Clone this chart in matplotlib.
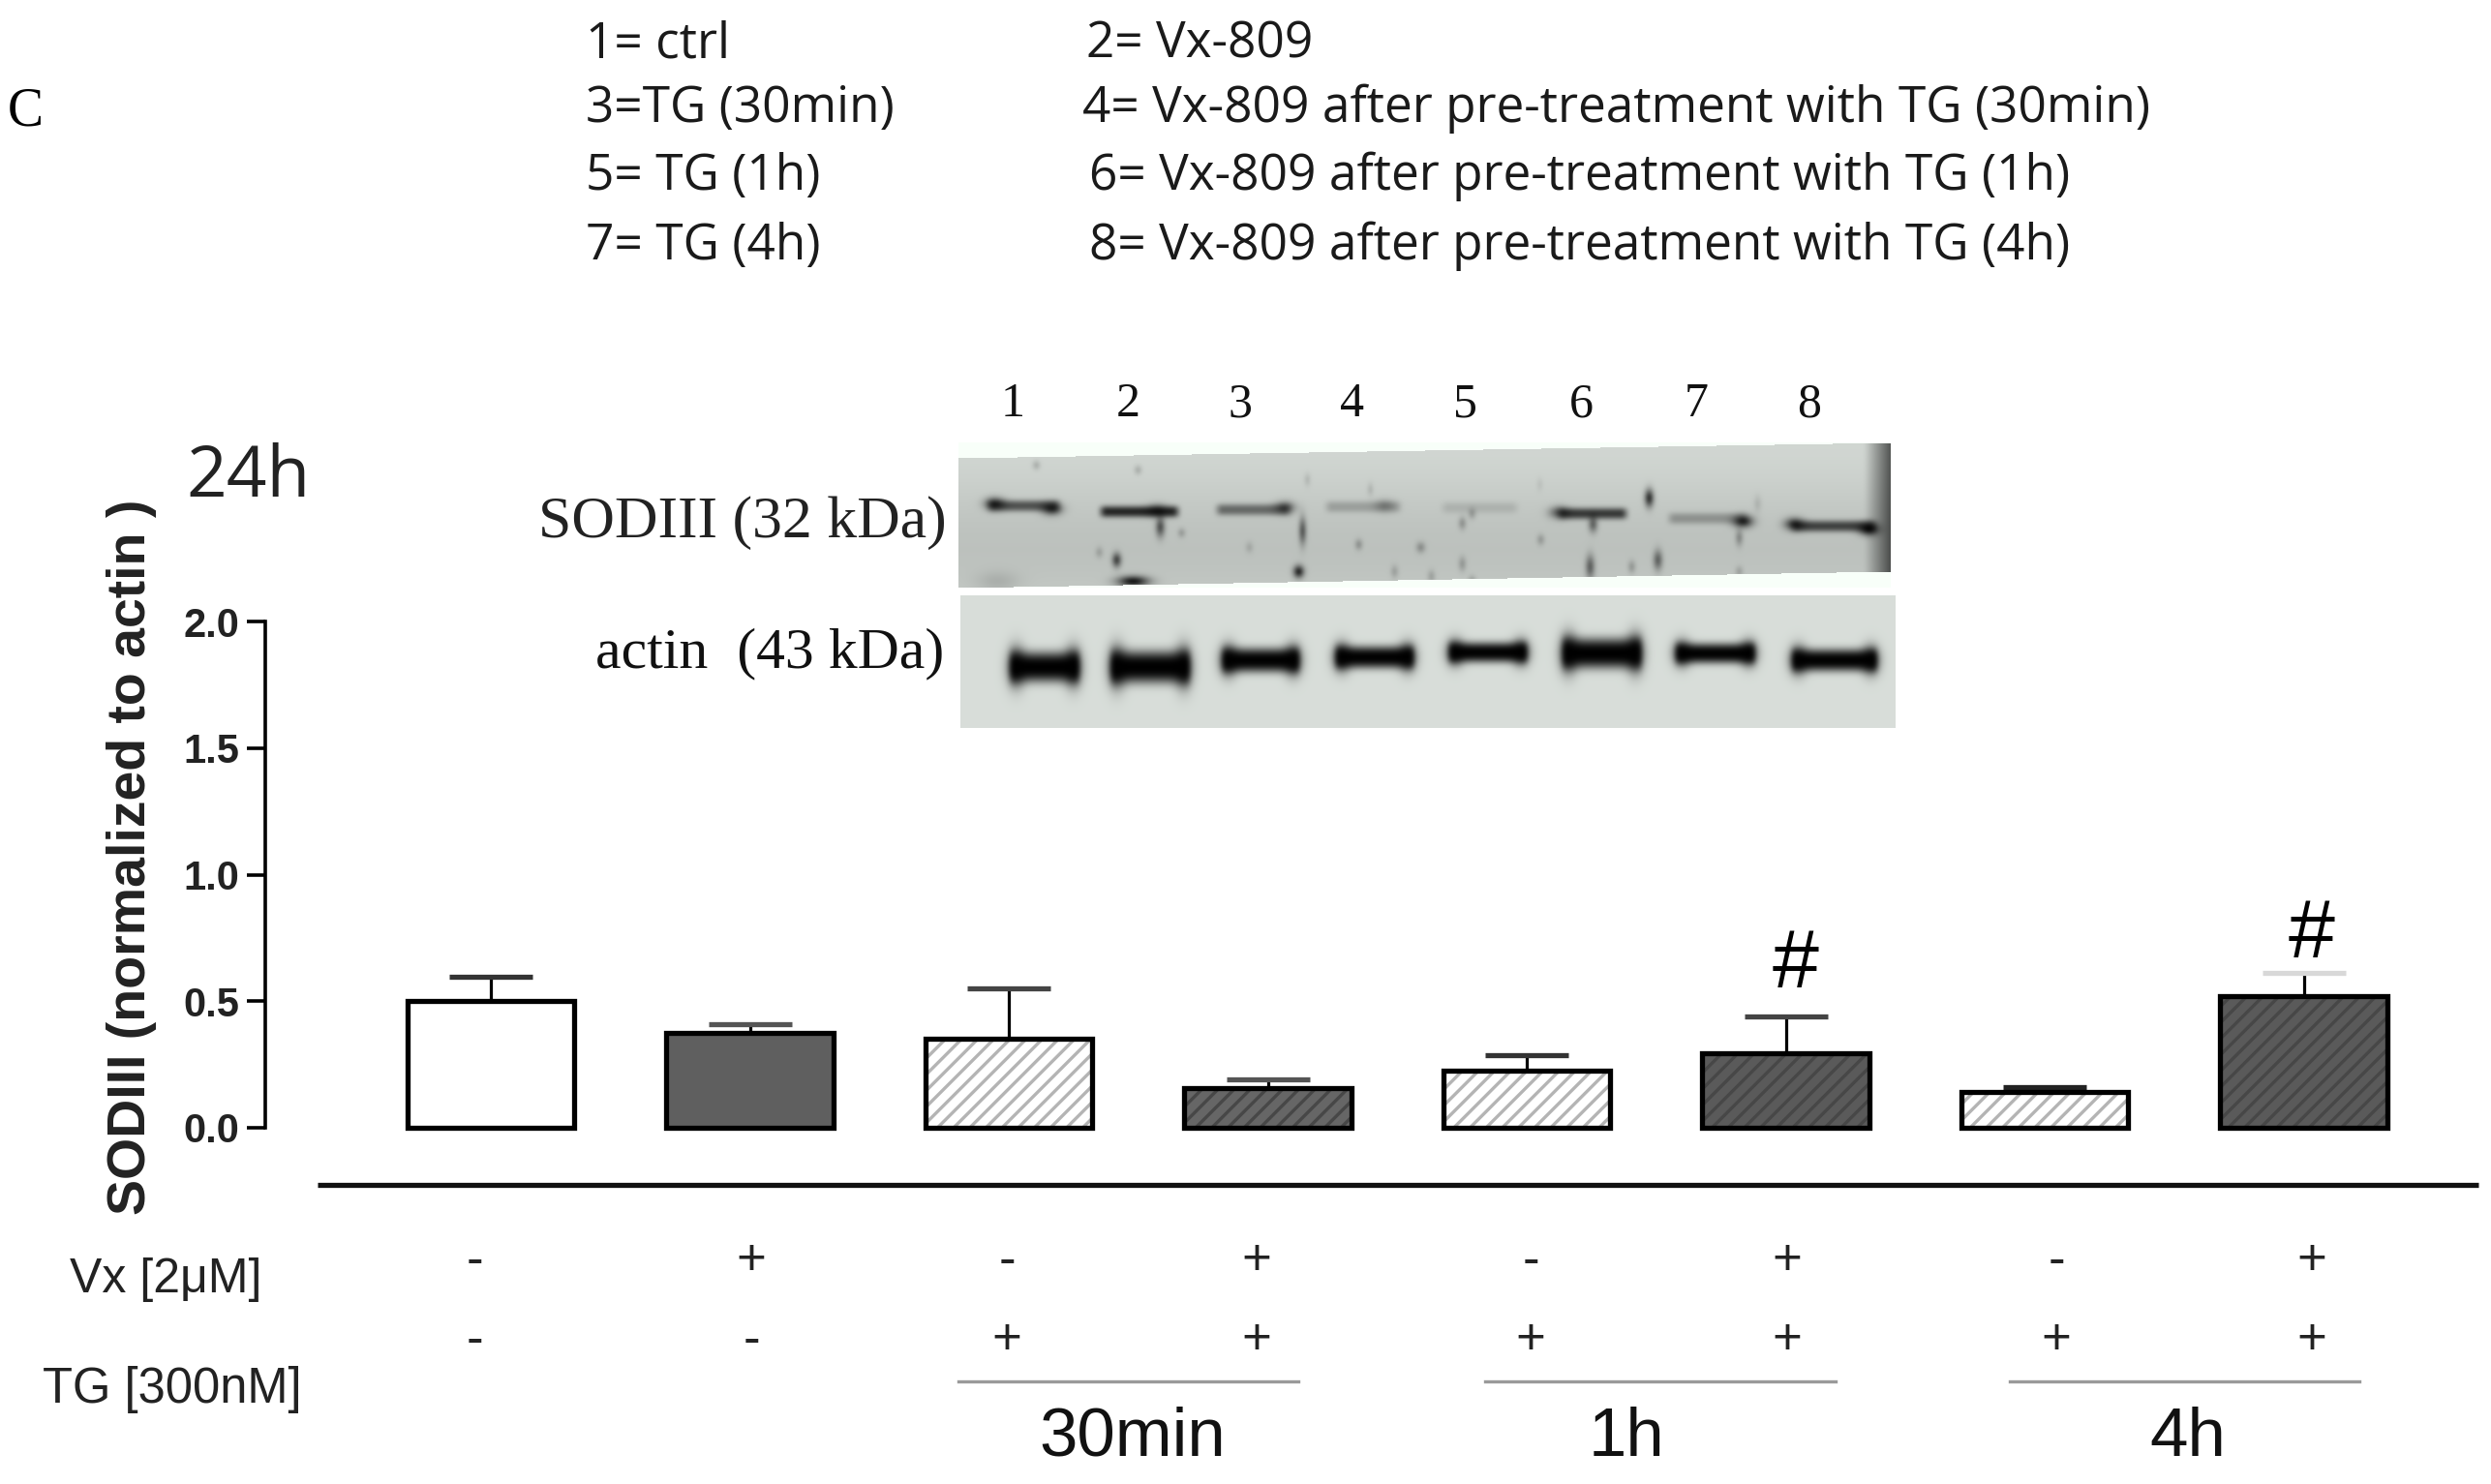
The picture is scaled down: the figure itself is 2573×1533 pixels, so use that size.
import numpy as np
import matplotlib
matplotlib.use("Agg")
import matplotlib.pyplot as plt

W, H = 2573, 1533

# bar values
means = [0.50, 0.375, 0.35, 0.155, 0.225, 0.295, 0.14, 0.52]
errs = [0.095, 0.035, 0.20, 0.035, 0.06, 0.145, 0.02, 0.09]
vx_signs = ["-", "+", "-", "+", "-", "+", "-", "+"]
tg_signs = ["-", "-", "+", "+", "+", "+", "+", "+"]
yticks = [0.0, 0.5, 1.0, 1.5, 2.0]
lanes = ["1", "2", "3", "4", "5", "6", "7", "8"]
legend_left = ["1= ctrl", "3=TG (30min)", "5= TG (1h)", "7= TG (4h)"]
legend_right = ["2= Vx-809", "4= Vx-809 after pre-treatment with TG (30min)",
                "6= Vx-809 after pre-treatment with TG (1h)",
                "8= Vx-809 after pre-treatment with TG (4h)"]
times = ["30min", "1h", "4h"]

# blot band strength per lane
sod_strength = [0.62, 0.85, 0.5, 0.22, 0.12, 0.75, 0.28, 0.7]
actin_strength = [1.0, 1.0, 1.0, 1.0, 1.0, 1.0, 1.0, 1.0]

plt.rcParams["hatch.linewidth"] = 2.4
fig = plt.figure(figsize=(W / 100, H / 100), dpi=100, facecolor="white")


def T(x, y, s, **kw):
    # x, y in pixels of the 2573x1533 picture
    return fig.text(x / W, 1 - y / H, s, **kw)


# bar chart
x0, x1, y0, y1 = 274, 2490, 1165, 642
ax = fig.add_axes([x0 / W, 1 - y0 / H, (x1 - x0) / W, (y0 - y1) / H])
ax.patch.set_alpha(0)
bar_x = np.arange(8)
ax.set_xlim((x0 - 507) / 267.5, (x1 - 507) / 267.5)
ax.set_ylim(0, 2)

faces = ["white", "#5f5f5f", "white", "#666666", "white", "#5a5a5a", "white", "#5a5a5a"]
hatch_col = ["none", "none", "#b4b4b4", "#474747", "#b4b4b4", "#474747", "#b4b4b4", "#474747"]
cap_col = ["#333333", "#555555", "#444444", "#555555", "#333333", "#444444", "#222222", "#d8d8d8"]

for i in bar_x:
    c = ax.errorbar(i, means[i], yerr=[[0], [errs[i]]], fmt="none", ecolor="black",
                    elinewidth=2.3, capsize=31, capthick=3.8, zorder=2, clip_on=False)
    c.lines[1][0].set_visible(False)
    c.lines[1][1].set_markeredgecolor(cap_col[i])
    # hatch is drawn in edgecolor, so fill + hatch first and outline after
    h = None if hatch_col[i] == "none" else "//"
    ax.bar(i, means[i], width=0.645, color=faces[i], edgecolor=hatch_col[i], hatch=h,
           linewidth=0, zorder=3)
    ax.bar(i, means[i], width=0.645, fill=False, edgecolor="black", linewidth=3.8, zorder=4,
           clip_on=False)

for s in ["top", "right", "bottom"]:
    ax.spines[s].set_visible(False)
ax.spines["left"].set_linewidth(2.6)
ax.set_xticks([])
ax.set_yticks(yticks)
ax.set_yticklabels(["%.1f" % v for v in yticks], family="Liberation Sans",
                   fontweight="bold", fontsize=30, color="#222222")
ax.tick_params(axis="y", length=14, width=2.6, pad=5)

# overlay for rules under the chart
ov = fig.add_axes([0, 0, 1, 1])
ov.set_xlim(0, W)
ov.set_ylim(H, 0)
ov.axis("off")
ov.patch.set_alpha(0)
ov.plot([328, 2560], [1224, 1224], color="#111111", lw=3.8, solid_capstyle="butt")
for a, b in [(990, 1341), (1534, 1896), (2076, 2437)]:
    ov.plot([a, b], [1427, 1427], color="#9a9a9a", lw=2.4)


# blots, built from band strengths
def band(img, xa, xb, yc, half, k, soft=3.0):
    yy, xx = np.mgrid[0:img.shape[0], 0:img.shape[1]]
    fx = np.clip((xx - xa) / soft, 0, 1) * np.clip((xb - xx) / soft, 0, 1)
    fy = np.exp(-(np.abs(yy - yc) / half) ** 3)
    img *= 1 - k * fx * fy


def spot(img, xc, yc, rx, ry, k):
    yy, xx = np.mgrid[0:img.shape[0], 0:img.shape[1]]
    img *= 1 - k * np.exp(-((xx - xc) / rx) ** 2 - ((yy - yc) / ry) ** 2)


def blur(img, sigma):
    t = np.arange(-int(3 * sigma), int(3 * sigma) + 1)
    g = np.exp(-t ** 2 / (2 * sigma ** 2))
    g = g / g.sum()
    p = np.pad(img, len(t), mode="edge")
    p = np.apply_along_axis(lambda m: np.convolve(m, g, mode="same"), 0, p)
    p = np.apply_along_axis(lambda m: np.convolve(m, g, mode="same"), 1, p)
    return p[len(t):-len(t), len(t):-len(t)]


def tint(img):
    return np.clip(np.dstack([img * 0.975, img, img * 0.98]), 0, 1)


# top blot: SODIII
bx0, bx1, by0, by1 = 990, 1953, 457, 607
sod = np.full((by1 - by0, bx1 - bx0), 0.80)
sod_x = [(1017, 1097), (1133, 1220), (1253, 1335), (1366, 1449), (1486, 1570), (1606, 1683), (1720, 1807), (1847, 1940)]
sod_y = [522, 528, 526, 523, 524, 530, 535, 543]
for i in range(8):
    band(sod, sod_x[i][0] - bx0, sod_x[i][1] - bx0, sod_y[i] - by0, 5.5, sod_strength[i], 8)
# band ends are darker
for xc, yc, k in [(1027, 520, .8), (1086, 525, .8), (1195, 527, .6), (1327, 524, .6), (1430, 522, .3),
                  (1610, 529, .6), (1800, 538, .9), (1853, 541, .8), (1930, 546, 1.0)]:
    spot(sod, xc - bx0, yc - by0, 10, 6, k)
# specks
specks = [(1198, 544, 4, 10, .7), (1345, 548, 3, 14, .7), (1341, 590, 5, 6, .95), (1153, 578, 4, 7, .8),
          (1170, 600, 16, 5, 1.0), (1645, 541, 4, 8, .6), (1703, 514, 4, 9, .9), (1642, 585, 4, 12, .6),
          (1712, 578, 4, 10, .6), (1796, 555, 3, 8, .4), (1403, 562, 3, 5, .35), (1467, 565, 4, 5, .35),
          (1591, 557, 3, 5, .3), (1510, 540, 3, 6, .35), (1510, 582, 3, 7, .3), (1070, 480, 3, 4, .25),
          (1520, 530, 3, 5, .3), (1135, 570, 3, 5, .25), (1220, 550, 3, 4, .3), (1290, 565, 3, 5, .2),
          (1440, 590, 3, 6, .25), (1478, 595, 3, 6, .25), (1520, 600, 3, 5, .3), (1685, 585, 3, 6, .3),
          (1796, 590, 3, 5, .25), (1030, 600, 22, 10, .12), (1175, 485, 3, 4, .25), (1350, 495, 2, 6, .2),
          (1415, 505, 2, 6, .2), (1590, 500, 2, 6, .12), (1815, 520, 3, 8, .15)]
for xc, yc, rx, ry, k in specks:
    spot(sod, xc - bx0, yc - by0, rx, ry, k)
# dark right edge and slanted outline
xx = np.arange(bx1 - bx0)
sod *= (1 - 0.62 * np.clip((xx - 935) / 28, 0, 1))[None, :]
yy, xx2 = np.mgrid[0:by1 - by0, 0:bx1 - bx0]
sod *= 1 + 0.05 * np.cos(yy / 35.0)
sod = blur(sod, 2.0)
top_edge = 16 - 16 * xx2 / (bx1 - bx0)
bot_edge = 150 - 17 * xx2 / (bx1 - bx0)
sod[(yy < top_edge) | (yy > bot_edge)] = 1.0
ax_sod = fig.add_axes([bx0 / W, 1 - by1 / H, (bx1 - bx0) / W, (by1 - by0) / H])
ax_sod.imshow(tint(sod), aspect="auto", interpolation="bilinear")
ax_sod.axis("off")

# bottom blot: actin
ax0, ax1, ay0, ay1 = 992, 1957, 615, 752
act = np.full((ay1 - ay0, ax1 - ax0), 0.87)
act_x = [(1040, 1117), (1144, 1231), (1259, 1344), (1376, 1462), (1493, 1579), (1610, 1697), (1727, 1814), (1847, 1940)]
act_y = [689, 689, 682, 679, 674, 675, 675, 682]
act_h = [15, 16, 12, 11, 10, 15, 10, 11]
for i in range(8):
    band(act, act_x[i][0] - ax0, act_x[i][1] - ax0, act_y[i] - ay0, act_h[i], actin_strength[i], 6)
    # bulge at both ends of a lane
    for ex in act_x[i]:
        spot(act, ex - ax0 + (9 if ex == act_x[i][0] else -9), act_y[i] - ay0, 9, act_h[i] * 1.25, 0.9)
act = blur(act, 2.0)
ax_act = fig.add_axes([ax0 / W, 1 - ay1 / H, (ax1 - ax0) / W, (ay1 - ay0) / H])
ax_act.imshow(tint(act), aspect="auto", interpolation="bilinear")
ax_act.axis("off")

# texts
sans = "Open Sans"
for y, s in zip([46, 112, 182, 254], legend_left):
    T(605, y, s, family=sans, fontsize=37, va="center", color="#1a1a1a")
for x, y, s in zip([1122, 1118, 1125, 1125], [46, 112, 182, 254], legend_right):
    T(x, y, s, family=sans, fontsize=37, va="center", color="#1a1a1a")
T(8, 115, "C", family="Liberation Serif", fontsize=40, va="center")
T(192, 494, "24h", family=sans, fontsize=52.5, va="center", color="#222222")

for x, s in zip([1046, 1165, 1281, 1397, 1514, 1633, 1752, 1869], lanes):
    T(x, 418, s, family="Liberation Serif", fontsize=36, ha="center", va="center", color="#111111")
T(978, 540, "SODIII (32 kDa)", family="Liberation Serif", fontsize=44.5, ha="right", va="center", color="#222222")
T(975, 675, "actin  (43 kDa)", family="Liberation Serif", fontsize=43, ha="right", va="center", color="#111111")

T(136, 885, "SODIII (normalized to actin )", family="Liberation Sans", fontweight="bold", fontsize=40,
  rotation=90, ha="center", va="center", color="#222222")

for x, s in zip([490, 776, 1040, 1298, 1581, 1846, 2124, 2388], vx_signs):
    T(x, 1303, s, family="Liberation Sans", fontsize=38, ha="center", va="center", color="#222222")
for x, s in zip([490, 776, 1040, 1298, 1581, 1846, 2124, 2388], tg_signs):
    T(x, 1385, s, family="Liberation Sans", fontsize=38, ha="center", va="center", color="#222222")
T(72, 1322, "Vx [2\u03bcM]", family="Liberation Sans", fontsize=36, va="center", color="#222222")
T(44, 1435, "TG [300nM]", family="Liberation Sans", fontsize=36.5, va="center", color="#222222")
for x, s in zip([1170, 1680, 2260], times):
    T(x, 1486, s, family="Liberation Sans", fontsize=51, ha="center", va="center", color="#111111")

T(1855, 998, "#", family="Liberation Sans", fontsize=62, ha="center", va="center")
T(2388, 967, "#", family="Liberation Sans", fontsize=62, ha="center", va="center")

fig.savefig("out.png", dpi=100)
